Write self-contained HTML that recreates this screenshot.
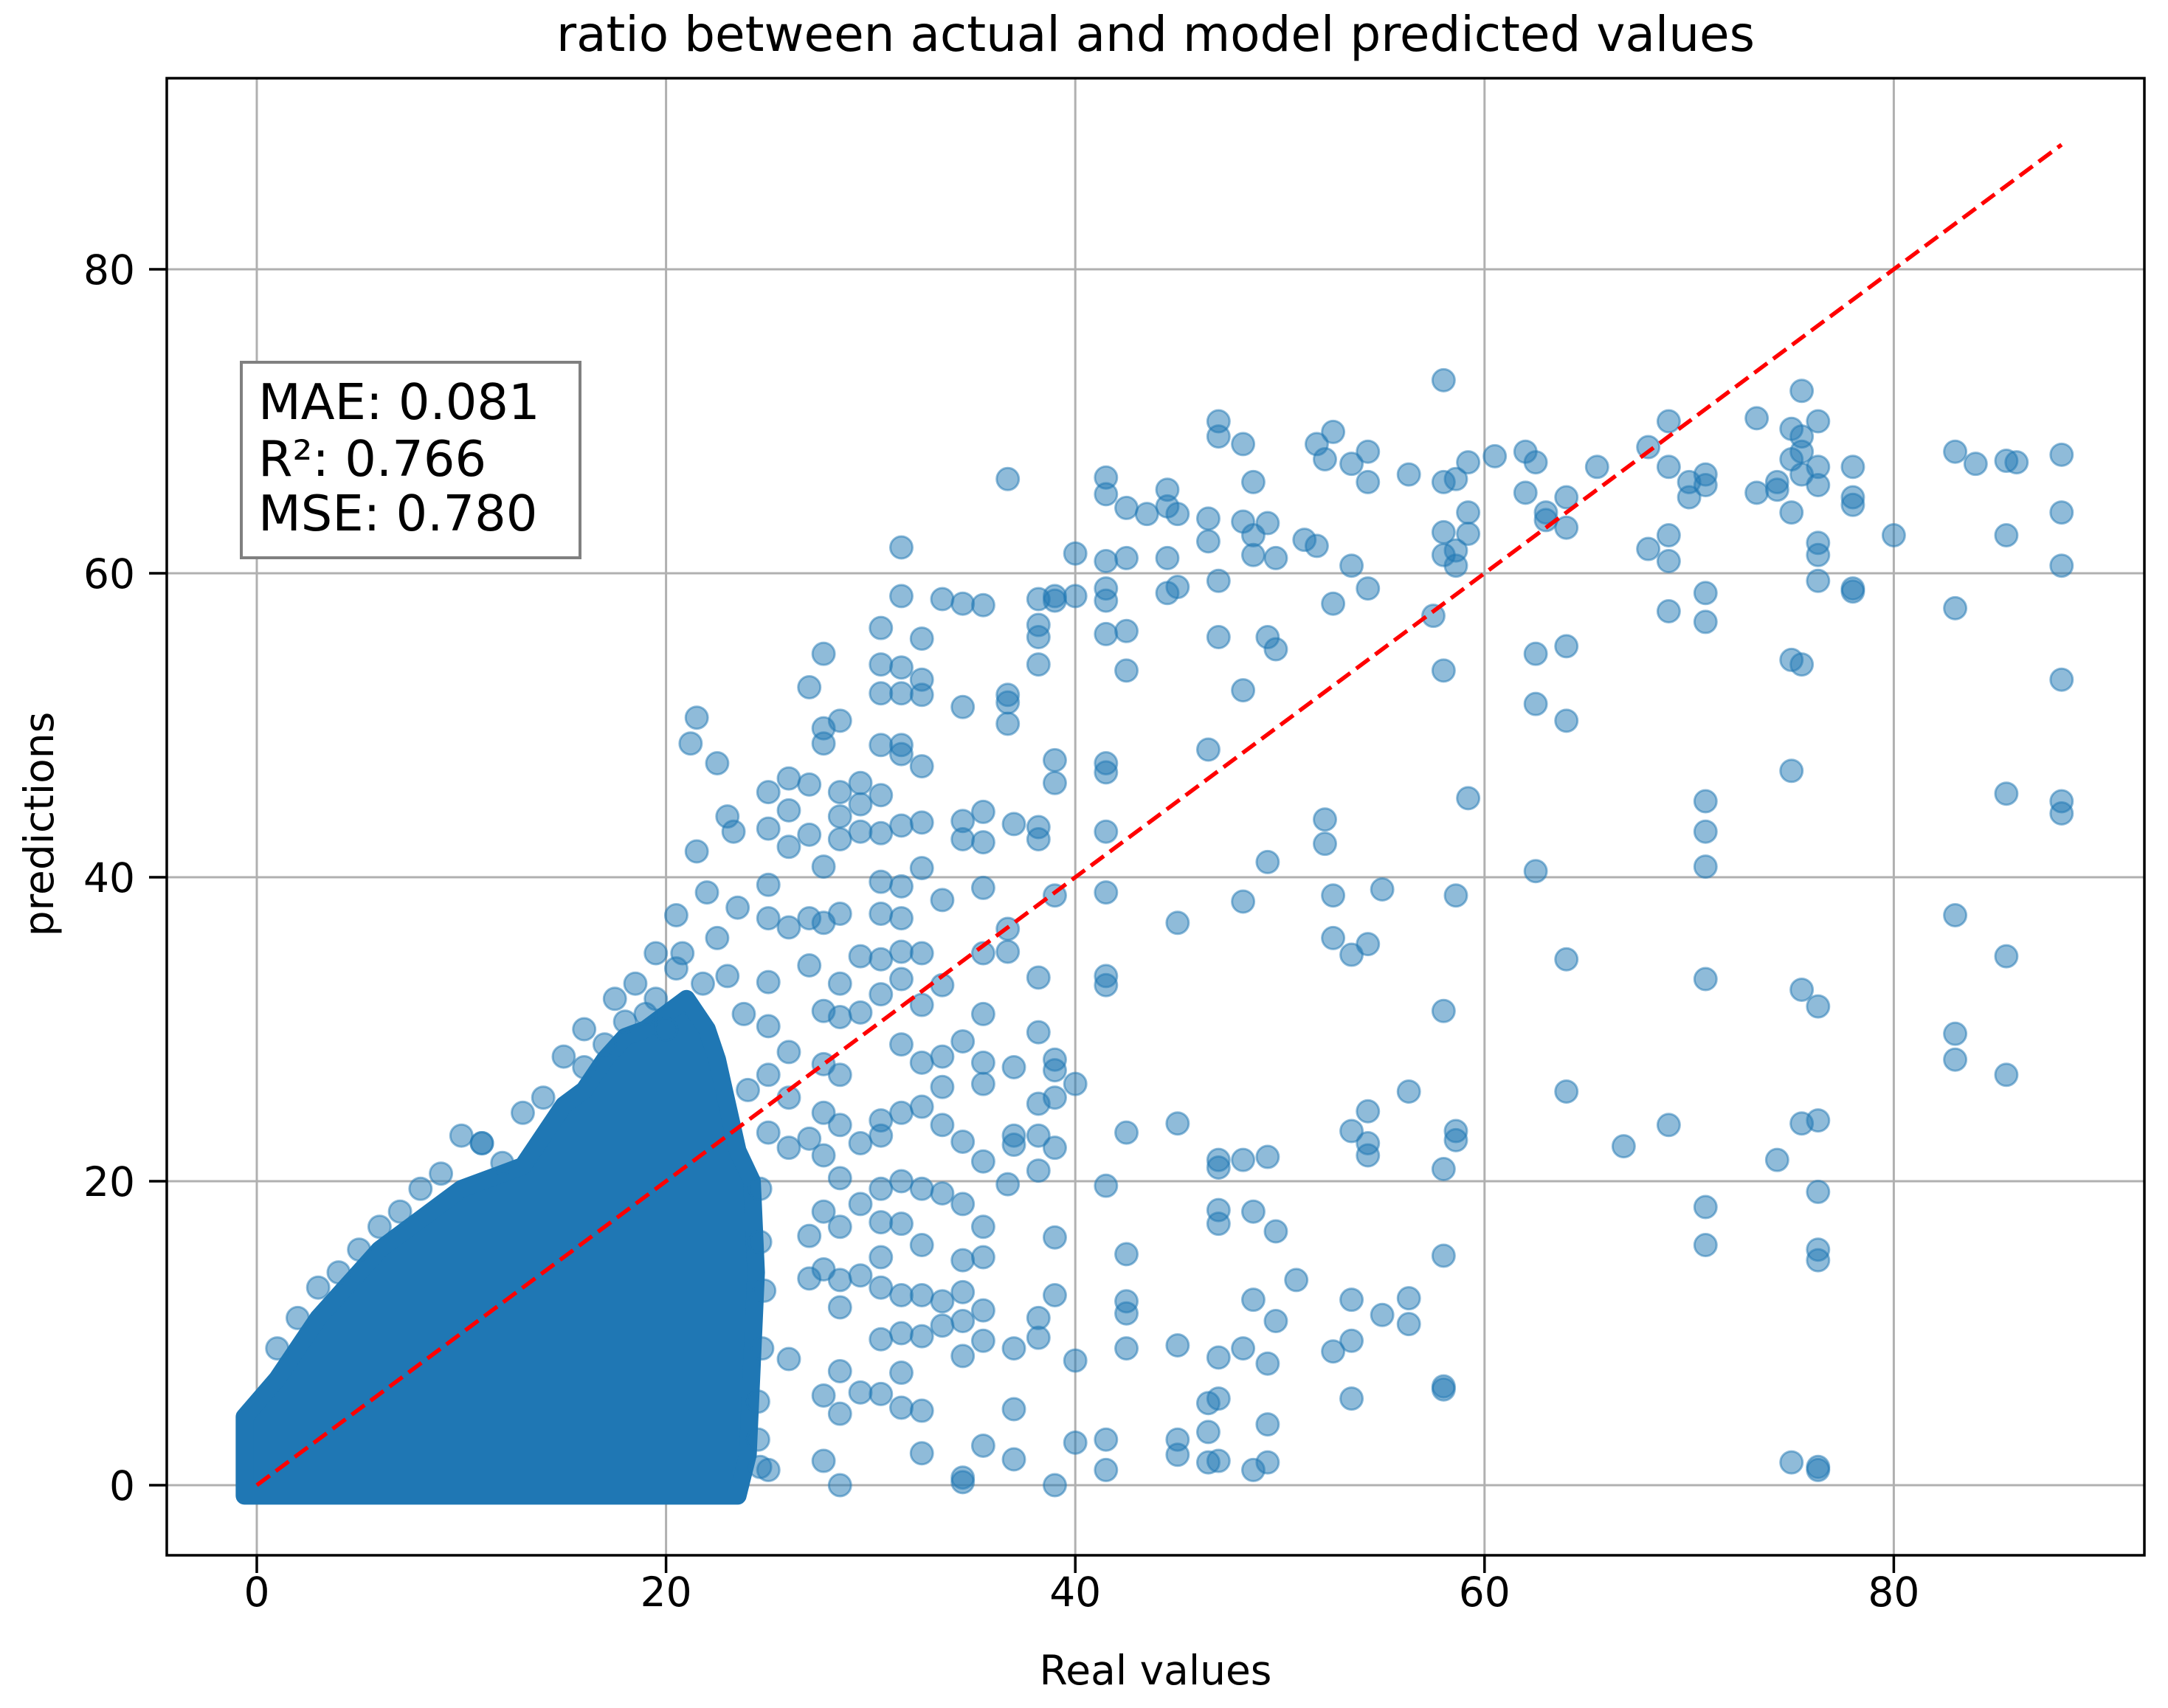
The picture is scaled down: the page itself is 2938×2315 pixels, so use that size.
<!DOCTYPE html>
<html><head><meta charset="utf-8"><style>
body{margin:0;background:#fff}
svg{display:block;font-family:"DejaVu Sans","Liberation Sans",sans-serif}
</style></head><body>
<svg id="chart" width="2938" height="2315" viewBox="0 0 2938 2315" xmlns="http://www.w3.org/2000/svg">
<rect width="2938" height="2315" fill="#fff"/>
<text x="1566" y="69" font-size="66" text-anchor="middle">ratio between actual and model predicted values</text>
<defs><clipPath id="clip"><rect x="226" y="106" width="2680" height="2002"/></clipPath></defs>
<g id="grid"></g>
<g id="marks" clip-path="url(#clip)"></g>
<rect x="226" y="106" width="2680" height="2002" fill="none" stroke="#000" stroke-width="3.5"/>
<g id="ticks"></g>
<text x="1566" y="2283" font-size="55" text-anchor="middle">Real values</text>
<text x="0" y="0" font-size="55" text-anchor="middle" transform="translate(72,1117) rotate(-90)">predictions</text>
<g>
<rect x="327" y="491" width="459" height="265" fill="#fff" stroke="#808080" stroke-width="4"/>
<text x="350" y="568" font-size="67">MAE: 0.081</text>
<text x="350" y="645" font-size="67">R²: 0.766</text>
<text x="350" y="719" font-size="67">MSE: 0.780</text>
</g>
</svg>
<script>
const xTicks=[0,20,40,60,80];
const yTicks=[0,20,40,60,80];
const clusterX=[-0.6,-0.6,1,2,3,4,5,6,8,10,12,13,14,15,16,17,18,19,20,21,22,22.5,23.5,24.2,24.4,24.2,24,23.5];
const clusterY=[-0.7,4.5,7,9,11,12.5,14,15.5,17.5,19.5,20.5,21,23,25,26,28,29.5,30,31,32,30,28,22,20,14,8,2,-0.7];
const ptsX=[88.2,88.2,88.2,88.2,88.2,88.2,85.5,85.5,85.5,85.5,85.5,83,83,83,83,83,84,86,80,78,78,78,78,78,
76.3,76.3,76.3,76.3,76.3,76.3,76.3,76.3,76.3,76.3,76.3,76.3,76.3,75.5,75.5,75.5,75.5,75.5,75.5,75.5,75,75,75,75,75,75,74.3,74.3,74.3,73.3,73.3,
70.8,70.8,70.8,70.8,70.8,70.8,70.8,70.8,70.8,70.8,70,70,69,69,69,69,69,69,68,68,66.8,65.5,64,64,64,64,64,64,63,63,62.5,62.5,62.5,62.5,62,62,60.5,
59.2,59.2,59.2,59.2,58.6,58.6,58.6,58.6,58.6,58.6,58,58,58,58,58,58,58,58,58,58,57.5,56.3,56.3,56.3,56.3,55,55,54.3,54.3,54.3,54.3,54.3,54.3,54.3,
53.5,53.5,53.5,53.5,53.5,53.5,53.5,52.6,52.6,52.6,52.6,52.6,52.2,52.2,52.2,51.8,51.8,51.2,50.8,49.8,49.8,49.8,49.8,49.4,49.4,49.4,49.4,49.4,49.4,49.4,
48.7,48.7,48.7,48.7,48.7,48.7,48.2,48.2,48.2,48.2,48.2,48.2,47,47,47,47,47,47,47,47,47,47,47,46.5,46.5,46.5,46.5,46.5,46.5,45,45,45,45,45,45,45,44.5,44.5,44.5,44.5,43.5,
42.5,42.5,42.5,42.5,42.5,42.5,42.5,42.5,42.5,41.5,41.5,41.5,41.5,41.5,41.5,41.5,41.5,41.5,41.5,41.5,41.5,41.5,41.5,41.5,40,40,40,40,40,
39,39,39,39,39,39,39,39,39,39,39,39,38.2,38.2,38.2,38.2,38.2,38.2,38.2,38.2,38.2,38.2,38.2,38.2,38.2,37,37,37,37,37,37,37,36.7,36.7,36.7,36.7,36.7,36.7,36.7,
35.5,35.5,35.5,35.5,35.5,35.5,35.5,35.5,35.5,35.5,35.5,35.5,35.5,35.5,34.5,34.5,34.5,34.5,34.5,34.5,34.5,34.5,34.5,34.5,34.5,34.5,34.5,
33.5,33.5,33.5,33.5,33.5,33.5,33.5,33.5,33.5,32.5,32.5,32.5,32.5,32.5,32.5,32.5,32.5,32.5,32.5,32.5,32.5,32.5,32.5,32.5,32.5,
31.5,31.5,31.5,31.5,31.5,31.5,31.5,31.5,31.5,31.5,31.5,31.5,31.5,31.5,31.5,31.5,31.5,31.5,31.5,
30.5,30.5,30.5,30.5,30.5,30.5,30.5,30.5,30.5,30.5,30.5,30.5,30.5,30.5,30.5,30.5,30.5,30.5,
29.5,29.5,29.5,29.5,29.5,29.5,29.5,29.5,29.5,28.5,28.5,28.5,28.5,28.5,28.5,28.5,28.5,28.5,28.5,28.5,28.5,28.5,28.5,28.5,28.5,
27.7,27.7,27.7,27.7,27.7,27.7,27.7,27.7,27.7,27.7,27.7,27.7,27.7,27,27,27,27,27,27,27,27,26,26,26,26,26,26,26,26,25,25,25,25,25,25,25,25,
24.6,24.6,24.8,24.7,24.5,24.6,23.5,22.5,22,21.5,21.2,22.5,21.5,20.5,20.8,21.8,19.5,20,18.5,17.5,23,23.3,16,15,10,11,12,25,24.5,19,18,17,16,14,13,11,9,8,7,6,5,4,3,2,1,23,23.8,24,20.5,19.5];
const ptsY=[67.8,64,60.5,53,45,44.2,67.4,62.5,45.5,34.8,27,68,57.7,37.5,29.7,28,67.2,67.3,62.5,67,65,64.5,59,58.8,
70,67,65.8,62,61.2,59.5,31.5,24,19.3,15.5,14.8,1.2,1,72,69,68,66.5,54,32.6,23.8,69.5,67.5,64,47,54.3,1.5,66,65.5,21.4,70.2,65.3,
66.5,65.8,58.7,56.8,45,43,40.7,33.3,18.3,15.8,66,65,70,67,62.5,60.8,57.5,23.7,68.3,61.6,22.3,67,65,63,55.2,50.3,34.6,25.9,64,63.5,67.3,54.7,51.4,40.4,65.3,68,67.7,
67.3,64,62.6,45.2,66.2,61.5,60.5,38.8,23.3,22.7,72.7,66,62.7,61.2,53.6,31.2,20.8,15.1,6.5,6.3,57.2,66.5,25.9,12.3,10.6,39.2,11.2,68,66,59,35.6,24.6,22.5,21.7,
67.2,60.5,34.9,23.3,12.2,9.5,5.7,69.3,58,38.8,36,8.8,67.5,43.8,42.2,68.5,61.8,62.2,13.5,61,55,16.7,10.8,63.3,55.8,41,21.6,8,4,1.5,
66,62.5,61.2,18,12.2,1,68.5,63.4,52.3,38.4,21.4,9,70,69,59.5,55.8,21.4,20.9,18.1,17.2,8.4,5.7,1.6,63.6,62.1,48.4,5.4,3.5,1.5,63.9,59.1,37,23.8,9.2,3,2,65.5,64.4,61,58.7,63.9,
61,64.3,56.2,53.6,23.2,15.2,12.1,11.3,9,66.3,65.2,59,58.2,60.8,56,47.5,46.9,43,39,33.5,32.9,19.7,3,1,61.3,58.5,26.4,8.2,2.8,
58.5,58.2,47.7,46.2,38.8,28,27.3,25.5,22.2,16.3,12.5,0,58.3,55.8,56.6,54,43.3,42.5,33.4,29.8,25.1,23,20.7,11,9.7,43.5,27.5,23,22.4,9,5,1.7,66.2,52,51.5,50.1,36.6,35.1,19.8,
57.9,44.3,42.3,39.3,35,31,27.8,26.4,21.3,17,15,11.5,9.5,2.6,58,51.2,43.7,42.5,29.2,22.6,18.5,14.8,12.7,10.8,8.5,0.5,0.2,
58.3,38.5,32.9,28.2,26.2,23.7,19.2,12.1,10.5,55.7,53,52,47.3,43.6,40.6,35,31.6,27.8,24.9,19.5,15.8,12.5,9.8,4.9,2.1,
61.7,58.5,53.8,52.1,48.7,48.1,43.4,39.4,37.3,35.1,33.3,29,24.5,20,17.2,12.5,10,7.4,5.1,
56.4,54,52.1,48.7,45.4,42.9,39.7,37.6,34.6,32.3,24,23,19.5,17.3,15,13,9.6,6,
44.8,46.2,43,34.8,31.1,22.5,18.5,13.8,6.1,50.3,45.6,44,42.5,37.6,33,30.8,27,23.7,20.2,17,13.5,11.7,7.5,4.7,0,
54.7,49.8,48.8,40.7,37,31.2,27.7,24.5,21.7,18,14.2,5.9,1.6,52.5,46.1,42.8,37.3,34.2,22.8,16.4,13.6,46.5,44.4,42,36.7,28.5,25.5,22.2,8.3,45.6,43.2,39.5,37.3,33.1,30.2,27,23.2,
19.5,16,12.8,9,5.5,1.2,38,36,39,50.5,48.8,47.5,41.7,37.5,35,33,32,30,33,32,44,43,30,28.2,23,22.5,21.2,1,3,31,30.5,29,27.5,25.5,24.5,22.5,20.5,19.5,18,17,15.5,14,13,11,9,33.5,31,26,34,35];
const lineStart=0, lineEnd=88.2;

const NS='http://www.w3.org/2000/svg';
const X=v=>348+v*27.73, Y=v=>2013-v*20.6;
const grid=document.getElementById('grid'), marks=document.getElementById('marks'), ticks=document.getElementById('ticks');
function mk(tag,attrs,parent){const e=document.createElementNS(NS,tag);for(const k in attrs)e.setAttribute(k,attrs[k]);parent.appendChild(e);return e;}
xTicks.forEach(t=>{
  const g=mk('line',{x1:X(t),x2:X(t),y1:106,y2:2108,stroke:'#b0b0b0','stroke-width':3},grid);
  
  
  const tk=mk('line',{x1:X(t),x2:X(t),y1:2108,y2:2132,stroke:'#000','stroke-width':3.5},ticks);
  
  
  const l=mk('text',{x:X(t),y:2177,'font-size':55,'text-anchor':'middle'},ticks);l.textContent=t;
  
  
});
yTicks.forEach(t=>{
  const g=mk('line',{x1:226,x2:2906,y1:Y(t),y2:Y(t),stroke:'#b0b0b0','stroke-width':3},grid);
  
  
  const tk=mk('line',{x1:202,x2:226,y1:Y(t),y2:Y(t),stroke:'#000','stroke-width':3.5},ticks);
  
  
  const l=mk('text',{x:183,y:Y(t)+20,'font-size':55,'text-anchor':'end'},ticks);l.textContent=t;
  
  
});
let d='';clusterX.forEach((v,i)=>{d+=(i?'L':'M')+X(v)+','+Y(clusterY[i]);});
const area=mk('path',{d:d+'Z',fill:'#1f77b4',stroke:'#1f77b4','stroke-width':24,'stroke-linejoin':'round'},marks);


ptsX.forEach((v,i)=>{
  const c=mk('circle',{cx:X(v),cy:Y(ptsY[i]),r:15,fill:'#1f77b4','fill-opacity':0.5,stroke:'#1f77b4','stroke-opacity':0.5,'stroke-width':3},marks);
  
  
});
const ln=mk('line',{x1:X(lineStart),y1:Y(lineStart),x2:X(lineEnd),y2:Y(lineEnd),stroke:'#ff0000','stroke-width':5.5,'stroke-dasharray':'22,10'},marks);


</script>
</body></html>
